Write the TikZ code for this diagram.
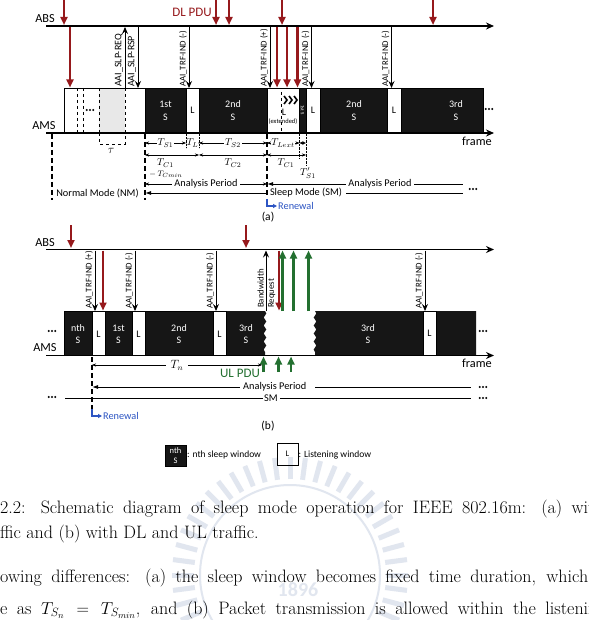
\documentclass[tikz,border=0pt]{standalone}
\usepackage{fontspec}
\newfontfamily\calibfont{Carlito}
\usetikzlibrary{arrows.meta,decorations.pathmorphing}
\definecolor{dlred}{RGB}{150,25,28}
\definecolor{ulgreen}{RGB}{35,112,48}
\definecolor{renblue}{RGB}{45,85,195}
\definecolor{boxblack}{RGB}{22,22,22}
\definecolor{lgray}{RGB}{232,232,232}
\definecolor{wmark}{RGB}{225,230,239}
\newcommand{\threedots}[2]{\fill (#1-3.2,#2) circle[radius=1.1] (#1,#2) circle[radius=1.1] (#1+3.2,#2) circle[radius=1.1];}
\newcommand{\fsz}[1]{\fontsize{#1}{#1}\selectfont}
\tikzset{
  axisline/.style={line width=1.7pt, -{Stealth[length=8pt,width=7pt]}},
  sfill/.style={fill=boxblack, draw=black, line width=0.4pt},
  lfill/.style={fill=white, draw=black, line width=0.5pt},
  blk/.style={line width=0.9pt, -{Stealth[length=7pt,width=6pt,inset=2.5pt]}},
  redarr/.style={dlred, line width=2.4pt, -{Triangle[length=8pt,width=7pt]}},
  grnarr/.style={ulgreen, line width=2.2pt, -{Triangle[length=8pt,width=7pt]}},
  msglbl/.style={rotate=90, anchor=south west, inner sep=0pt, font=\calibfont\fsz{8.8}},
  wtxt/.style={text=white, font=\calibfont\fsz{10}, inner sep=0pt},
  btxt/.style={font=\calibfont\fsz{10}, inner sep=0pt},
  lbl/.style={font=\calibfont\fsz{10.3}, inner sep=0pt},
  axlbl/.style={font=\calibfont\fsz{12.3}, inner sep=0pt},
  mlbl/.style={font=\fsz{10}, inner sep=0.8pt, fill=white},
  mlbln/.style={font=\fsz{10}, inner sep=0pt},
  dim/.style={line width=0.4pt, {Stealth[length=4pt,width=3pt]}-{Stealth[length=4pt,width=3pt]}},
  dimr/.style={line width=0.4pt, -{Stealth[length=4pt,width=3pt]}},
  diml/.style={line width=0.4pt, {Stealth[length=4pt,width=3pt]}-},
  thickdash/.style={line width=1.7pt, dash pattern=on 5pt off 3pt},
  vdot/.style={line width=0.4pt, densely dotted},
  modeline/.style={line width=0.6pt},
  modearr/.style={line width=0.9pt, {Latex[length=6pt,width=4pt]}-},
  renarr/.style={renblue, line width=1.6pt, -{Triangle[length=4pt,width=4pt]}},
  captxt/.style={font=\rmfamily\fsz{18}, inner sep=0pt, anchor=base west},
}
\begin{document}
\begin{tikzpicture}[x=1pt,y=-1pt]
\useasboundingbox[fill=white] (0,0) rectangle (588,620);

% faint watermark
\coordinate (wmc) at (290,575);
\foreach \a in {0,7.5,...,352.5}{\draw[wmark, line width=5pt] (wmc) ++(\a:96) -- ++(\a:22);}
\draw[wmark, line width=2pt] (wmc) circle[radius=90];
\node[font=\calibfont\bfseries\fsz{20}, text=wmark, inner sep=0pt] (wm1896) at (298,590) {1896};

%================ (a) ================
% boxes
\draw[lfill] (145,133) -- (64,133) -- (64,88) -- (145,88);
\fill[lgray] (99,88) rectangle (125,132);
\draw[line width=0.5pt, dashed] (77,88) -- (77,132) (83,88) -- (83,132) (99,88) -- (99,132) (125,88) -- (125,132);
\draw[line width=0.5pt] (64,88) -- (145,88);
\threedots{90}{110}
\draw[sfill] (145,88) rectangle (186,132);
\draw[lfill] (186,88) rectangle (199,132);
\draw[sfill] (199,88) rectangle (267,132);
\draw[lfill] (267,88) rectangle (299,132);
\draw[sfill] (299,88) rectangle (306,132);
\draw[lfill] (306,88) rectangle (320,132);
\draw[sfill] (320,88) rectangle (387,132);
\draw[lfill] (387,88) rectangle (401,132);
\draw[sfill] (401,88) rectangle (483,132);
\threedots{489}{109}
\draw[line width=0.5pt, dashed] (281,92) -- (281,132);
\foreach \cx in {284,289,294}{\draw[line width=1.6pt] (\cx,96) -- (\cx+3,100) -- (\cx,104);}
\node[wtxt] (a1st) at (165.5,104) {1st};
\node[wtxt] (a1s) at (165.5,117) {S};
\node[btxt] (aL1) at (192.5,110) {L};
\node[wtxt] (a2nd) at (233,104) {2nd};
\node[wtxt] (a2s) at (233,117) {S};
\node[btxt] (aLext) at (284,112) {L};
\node[font=\calibfont\fsz{6.5}, inner sep=0pt] (aext) at (283,122) {(extended)};
\node[wtxt, font=\calibfont\fsz{5}, rotate=-90] (asmall) at (302.5,110) {1st S};
\node[btxt] (aL2) at (313,110) {L};
\node[wtxt] (b2nd) at (354,104) {2nd};
\node[wtxt] (b2s) at (354,117) {S};
\node[btxt] (aL3) at (394,110) {L};
\node[wtxt] (a3rd) at (456,104) {3rd};
\node[wtxt] (a3s) at (456,117) {S};

% axes
\draw[axisline] (46,26) -- (494,26);
\draw[axisline] (46,133) -- (494,133);
\node[axlbl] (absa) at (45,19) {ABS};
\node[axlbl] (amsa) at (44,126) {AMS};
\node[axlbl] (framea) at (477,141) {frame};

% red arrows
\foreach \rx in {64,216,229,282,433}{\draw[redarr] (\rx,0) -- (\rx,25);}
\foreach \rx in {70,277,287,297.5}{\draw[redarr] (\rx,27) -- (\rx,87.5);}
\node[font=\calibfont\fsz{13}, text=dlred, inner sep=0pt] (dlpdu) at (192,12) {DL PDU};

% black message arrows
\draw[blk] (125,88) -- (125,27);
\node[msglbl, font=\calibfont\fsz{10}] (slpreq) at (123,87) {AAI\_SLP-REQ};
\draw[blk] (138,27) -- (138,88);
\node[msglbl, font=\calibfont\fsz{10}] (slprsp) at (136,87) {AAI\_SLP-RSP};
\foreach \mx/\sg in {189/-,270/+,311.5/-,391.5/-}{
  \draw[blk] (\mx,27) -- (\mx,88);
  \node[msglbl] at (\mx-2,87) {AAI\_TRF-IND (\sg)};
}

% below (a)
\draw[thickdash] (52,134) -- (52,200);
\draw[thickdash] (145,134) -- (145,200);
\draw[thickdash] (267,134) -- (267,197);
\draw[vdot] (186,134) -- (186,148) (199,134) -- (199,148) (299.5,134) -- (299.5,158) (306,134) -- (306,166);
\draw[line width=0.5pt, dashed] (99,133) -- (99,144) -- (125,144) -- (125,133);
\node[mlbln, font=\fsz{12}] (tau) at (111,151) {$\tau$};
% row 1
\draw[dim] (145,143) -- (186,143);
\node[mlbl] (ts1) at (165.5,143) {$T_{S1}$};
\draw[dim] (186,143) -- (199,143);
\node[mlbl, inner sep=0pt] (tl) at (192.5,143) {$T_{L}$};
\draw[dim] (199,143) -- (267,143);
\node[mlbl] (ts2) at (233,143) {$T_{S2}$};
\draw[dim] (267,143) -- (299.5,143);
\node[mlbl] (tlext) at (283,143) {$T_{Lext}$};
\draw[dim] (299.5,143) -- (306,143);
% row 2
\draw[dim] (145,155) -- (199,155);
\draw[dim] (199,155) -- (267,155);
\draw[dim] (267,155) -- (306,155);
\node[mlbln] (tc1) at (165.5,163) {$T_{C1}$};
\node[mlbln] (tc2) at (233,163) {$T_{C2}$};
\node[mlbln] (tc1b) at (286,163) {$T_{C1}$};
\node[mlbln, font=\fsz{8}] (tcmin) at (166,174) {$-\,T_{Cmin}$};
\node[mlbln] (tps1) at (308,173) {$T'_{S1}$};
% row 3
\draw[dim] (145,184) -- (267,184);
\node[lbl, fill=white, inner xsep=2pt] (ap1) at (206,184) {Analysis Period};
\draw[modearr] (267,184) -- (346,184);
\node[lbl] (ap2) at (380,184) {Analysis Period};
\draw[modeline] (414,184) -- (463,184);
% row 4
\node[lbl] (nm) at (97.5,193) {Normal Mode (NM)};
\draw[modearr] (145,193) -- (267,193);
\node[lbl] (sm) at (306,193) {Sleep Mode (SM)};
\draw[modeline] (346,193) -- (463,193);
\threedots{473}{189}
% renewal
\draw[renarr] (267,199) -- (267,206) -- (277,206);
\node[lbl, text=renblue, anchor=west] (rena) at (278,205.5) {Renewal};
\node[font=\calibfont\fsz{11.5}, inner sep=0pt] (capa) at (268,217) {(a)};

%================ (b) ================
\threedots{52}{331}
\draw[sfill] (64,311) rectangle (92,355);
\draw[lfill] (92,311) rectangle (105,355);
\draw[sfill] (105,311) rectangle (132,355);
\draw[lfill] (132,311) rectangle (145,355);
\draw[sfill] (145,311) rectangle (213,355);
\draw[lfill] (213,311) rectangle (226,355);
\fill[boxblack] (226,311) -- (265,311) decorate[decoration={snake,amplitude=1.3pt,segment length=8pt}]{-- (265,355)} -- (226,355) -- cycle;
\fill[boxblack] (476,311) -- (315,311) decorate[decoration={snake,amplitude=1.3pt,segment length=8pt}]{-- (315,355)} -- (476,355) -- cycle;
\draw[line width=0.4pt] (226,311) -- (226,355);
\draw[lfill] (423,311) rectangle (436,355);
\threedots{483}{331}
\node[wtxt] (bnth) at (78,328) {nth};
\node[wtxt] (bns) at (78,340) {S};
\node[btxt] (bL1) at (98.5,334) {L};
\node[wtxt] (b1st) at (118.5,328) {1st};
\node[wtxt] (b1s) at (118.5,340) {S};
\node[btxt] (bL2) at (138.5,334) {L};
\node[wtxt] (bb2nd) at (179,328) {2nd};
\node[wtxt] (bb2s) at (179,340) {S};
\node[btxt] (bL3) at (219.5,334) {L};
\node[wtxt] (b3rd) at (246,328) {3rd};
\node[wtxt] (b3s) at (246,340) {S};
\node[wtxt] (b3rdb) at (368,328) {3rd};
\node[wtxt] (b3sb) at (368,340) {S};
\node[btxt] (bL4) at (429.5,333) {L};

\draw[axisline] (46,249.5) -- (494,249.5);
\draw[axisline] (46,355.5) -- (494,355.5);
\node[axlbl] (absb) at (45,243) {ABS};
\node[axlbl] (amsb) at (45,348) {AMS};
\node[axlbl] (frameb) at (477,363) {frame};

\foreach \rx in {71,246}{\draw[redarr] (\rx,225) -- (\rx,248);}
\foreach \rx in {103,279}{\draw[redarr] (\rx,250.5) -- (\rx,310.5);}
\foreach \mx/\sg in {95/+,135/-,216/-,425/-}{
  \draw[blk] (\mx,250.5) -- (\mx,311);
  \node[msglbl] at (\mx-2,309) {AAI\_TRF-IND (\sg)};
}
\draw[blk] (266,311) -- (266,250.5);
\node[msglbl] (bw) at (264,308) {Bandwidth};
\node[msglbl, anchor=north west] (rq) at (268,308) {Request};
\foreach \gx in {282.5,293.5,308.5}{\draw[grnarr] (\gx,311) -- (\gx,250.5);}
\foreach \gx in {263.5,278.5,291}{\draw[grnarr] (\gx,372) -- (\gx,356.5);}
\node[font=\calibfont\fsz{13}, text=ulgreen, inner sep=0pt] (ulpdu) at (240,373) {UL PDU};

\draw[thickdash] (92,357) -- (92,409);
\draw[diml] (92,365) -- (166,365);
\draw[dimr] (188,365) -- (262,365);
\node[mlbln, font=\fsz{12}] (tn) at (177,365) {$T_n$};
\draw[modearr] (92,387) -- (240,387);
\node[lbl, anchor=west] (apb) at (243,387) {Analysis Period};
\draw[modeline] (315,387) -- (471,387);
\threedots{483}{387}
\threedots{52}{397}
\draw[modeline] (65,398) -- (263,398);
\node[lbl] (smb) at (271,398) {SM};
\draw[modeline] (280,398) -- (471,398);
\threedots{483}{398}
\draw[renarr] (92,409) -- (92,416) -- (102,416);
\node[lbl, text=renblue, anchor=west] (renb) at (103,416) {Renewal};
\node[font=\calibfont\fsz{11.5}, inner sep=0pt] (capb) at (268,426) {(b)};

% legend
\draw[sfill] (165,445) rectangle (186,466);
\node[wtxt, font=\calibfont\fsz{8.5}] (lgn) at (175.5,450.5) {nth};
\node[wtxt, font=\calibfont\fsz{8.5}] (lgs) at (175.5,460.5) {S};
\node[font=\calibfont\fsz{9.5}, anchor=west, inner sep=0pt] (lgt1) at (187,455) {: nth sleep window};
\draw[line width=0.6pt] (277,443) rectangle (298,465);
\node[font=\calibfont\fsz{8.5}, inner sep=0pt] (lgl) at (287.5,454) {L};
\node[font=\calibfont\fsz{9.5}, anchor=west, inner sep=0pt] (lgt2) at (298.5,455) {: Listening window};

% caption and body text
\node[captxt] (c1) at (0,513) {\makebox[588pt][s]{2.2: Schematic diagram of sleep mode operation for IEEE 802.16m: (a) wi\rlap{th DL}}};
\node[captxt] (c2) at (0,538) {ffic and (b) with DL and UL traffic.};
\node[captxt] (c3) at (0,582) {\makebox[588pt][s]{owing differences: (a) the sleep window becomes fixed time duration, which}};
\node[captxt] (c4) at (0,614) {\makebox[588pt][s]{e as $T_{S_n} = T_{S_{min}}$, and (b) Packet transmission is allowed within the listeni\rlap{ng}}};
\end{tikzpicture}
\end{document}
